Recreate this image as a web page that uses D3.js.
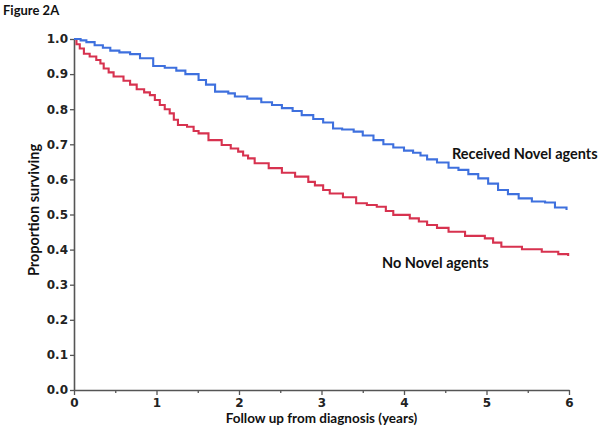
<!DOCTYPE html>
<html>
<head>
<meta charset="utf-8">
<script src="https://cdn.jsdelivr.net/npm/d3@7"></script>
<style>
  html, body { margin: 0; padding: 0; background: #fff; }
  svg { display: block; }
  .axis path, .axis line { stroke: #555; }
  .axis path { stroke-width: 1.6; }
  .axis line { stroke-width: 1.3; }
  .axis text { font-family: "DejaVu Sans", sans-serif; font-weight: bold; font-size: 12px; fill: #222; }
  .lbl { font-family: Lato, "Open Sans", sans-serif; font-weight: bold; fill: #111; }
</style>
</head>
<body>
<script>
// Kaplan-Meier style survival, Figure 2A
const yearsNovel = [0, 0.08, 0.15, 0.25, 0.35, 0.44, 0.55, 0.68, 0.8, 0.96, 1.1, 1.24, 1.35, 1.51, 1.6, 1.71, 1.87, 1.95, 2.1, 2.27, 2.4, 2.52, 2.65, 2.76, 2.9, 3.02, 3.14, 3.25, 3.39, 3.5, 3.63, 3.75, 3.87, 4.0, 4.11, 4.2, 4.28, 4.4, 4.54, 4.66, 4.78, 4.9, 5.02, 5.14, 5.26, 5.39, 5.55, 5.71, 5.83, 5.97];
const survNovel = [1.0, 0.996, 0.991, 0.982, 0.975, 0.967, 0.962, 0.957, 0.945, 0.923, 0.918, 0.910, 0.900, 0.883, 0.870, 0.850, 0.845, 0.836, 0.830, 0.820, 0.812, 0.803, 0.795, 0.783, 0.772, 0.762, 0.745, 0.742, 0.736, 0.725, 0.712, 0.700, 0.691, 0.682, 0.676, 0.668, 0.657, 0.648, 0.633, 0.627, 0.615, 0.603, 0.588, 0.570, 0.558, 0.546, 0.537, 0.534, 0.520, 0.513];

const yearsNone = [0, 0.03, 0.07, 0.12, 0.19, 0.27, 0.32, 0.36, 0.42, 0.48, 0.6, 0.68, 0.76, 0.85, 0.92, 0.98, 1.04, 1.1, 1.16, 1.21, 1.26, 1.37, 1.45, 1.51, 1.63, 1.79, 1.9, 1.99, 2.05, 2.11, 2.19, 2.36, 2.52, 2.68, 2.84, 2.92, 3.02, 3.1, 3.26, 3.42, 3.55, 3.67, 3.78, 3.87, 4.07, 4.18, 4.28, 4.4, 4.54, 4.74, 4.98, 5.08, 5.18, 5.43, 5.67, 5.87, 5.99];
const survNone = [1.0, 0.985, 0.973, 0.958, 0.950, 0.940, 0.930, 0.916, 0.905, 0.893, 0.881, 0.870, 0.857, 0.848, 0.840, 0.826, 0.812, 0.800, 0.788, 0.770, 0.755, 0.750, 0.738, 0.731, 0.712, 0.698, 0.688, 0.679, 0.668, 0.660, 0.646, 0.632, 0.619, 0.608, 0.593, 0.583, 0.570, 0.560, 0.549, 0.532, 0.527, 0.522, 0.510, 0.499, 0.489, 0.480, 0.470, 0.462, 0.451, 0.439, 0.432, 0.420, 0.408, 0.401, 0.394, 0.387, 0.382];

const xTicks = [0, 1, 2, 3, 4, 5, 6];
const xMinorTicks = [0.5, 1.5, 2.5, 3.5, 4.5, 5.5];
const yTicks = [0, 0.1, 0.2, 0.3, 0.4, 0.5, 0.6, 0.7, 0.8, 0.9, 1.0];

const W = 601, H = 429;
const svg = d3.select('body').append('svg').attr('width', W).attr('height', H);

const x = d3.scaleLinear().domain([0, 6]).range([74, 569]);
const y = d3.scaleLinear().domain([0, 1]).range([390, 39]);

// title
svg.append('text').attr('class', 'lbl').attr('x', 3).attr('y', 15)
  .attr('font-size', 13).text('Figure 2A');

// axes
svg.append('g').attr('class', 'axis')
  .attr('transform', `translate(${x(0)},0)`)
  .call(d3.axisLeft(y).tickValues(yTicks).tickFormat(d3.format('.1f'))
    .tickSize(4).tickSizeOuter(0).tickPadding(2));

svg.append('g').attr('class', 'axis')
  .attr('transform', `translate(0,${y(0)})`)
  .call(d3.axisBottom(x).tickValues(xTicks).tickFormat(d3.format('d'))
    .tickSize(5).tickSizeOuter(0).tickPadding(3));

svg.append('g').attr('class', 'axis')
  .attr('transform', `translate(0,${y(0)})`)
  .call(d3.axisBottom(x).tickValues(xMinorTicks).tickFormat('')
    .tickSize(3).tickSizeOuter(0))
  .select('.domain').remove();

// curves
const line = d3.line().x(d => x(d[0])).y(d => y(d[1])).curve(d3.curveStepAfter);

svg.append('path')
  .datum(d3.zip(yearsNone, survNone))
  .attr('fill', 'none').attr('stroke', '#d7324f').attr('stroke-width', 2.1)
  .attr('d', line);

svg.append('path')
  .datum(d3.zip(yearsNovel, survNovel))
  .attr('fill', 'none').attr('stroke', '#3e70de').attr('stroke-width', 2.1)
  .attr('d', line);

// axis titles
svg.append('text').attr('class', 'lbl')
  .attr('x', (x(0) + x(6)) / 2).attr('y', 423).attr('text-anchor', 'middle')
  .attr('font-size', 13.5).text('Follow up from diagnosis (years)');

svg.append('text').attr('class', 'lbl')
  .attr('transform', 'translate(39,210) rotate(-90)')
  .attr('text-anchor', 'middle').attr('font-size', 14.5)
  .text('Proportion surviving');

// series labels
svg.append('text').attr('class', 'lbl')
  .attr('x', 452).attr('y', 159).attr('font-size', 14.5)
  .text('Received Novel agents');

svg.append('text').attr('class', 'lbl')
  .attr('x', 382).attr('y', 268).attr('font-size', 14.5)
  .text('No Novel agents');
</script>
</body>
</html>
